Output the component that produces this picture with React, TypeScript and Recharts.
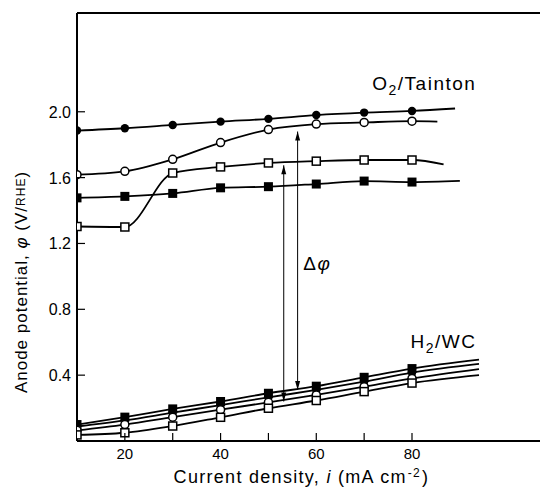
import { LineChart, Line, XAxis, YAxis, ReferenceLine, ReferenceDot } from 'recharts';

const FONT = '"Liberation Sans", Arial, sans-serif';

// current density, mA cm-2 (measured points)
const currents = [10, 20, 30, 40, 50, 60, 70, 80];

// O2 / Tainton cathode side – anode potential, V vs RHE
const o2FilledCircle = [1.886, 1.9, 1.92, 1.94, 1.957, 1.98, 1.995, 2.005];
const o2OpenCircle = [1.618, 1.638, 1.711, 1.813, 1.892, 1.925, 1.935, 1.943];
const o2OpenSquare = [1.303, 1.3, 1.628, 1.665, 1.689, 1.7, 1.707, 1.707];
const o2FilledSquare = [1.477, 1.486, 1.504, 1.538, 1.545, 1.561, 1.579, 1.573];

// H2 / WC
const h2FilledSquare = [0.1, 0.145, 0.195, 0.24, 0.29, 0.333, 0.387, 0.44];
const h2FilledCircle = [0.088, 0.125, 0.172, 0.218, 0.265, 0.31, 0.36, 0.415];
const h2OpenCircle = [0.065, 0.1, 0.145, 0.19, 0.235, 0.28, 0.33, 0.38];
const h2OpenSquare = [0.037, 0.05, 0.091, 0.144, 0.199, 0.246, 0.3, 0.352];

// where each drawn curve runs out past the last point
const tailX = [89, 85.3, 86.6, 90, 94, 94, 94, 94];
const tailY = [2.02, 1.94, 1.68, 1.58, 0.494, 0.468, 0.437, 0.4];

// delta-phi arrows
const deltaX = [53.2, 56.1];
const deltaTop = [1.675, 1.88];
const deltaBottom = [0.24, 0.31];

const xTicks = [20, 30, 40, 50, 60, 70, 80];
const yTicks = [0.4, 0.8, 1.2, 1.6, 2.0];

type Shape = 'fc' | 'oc' | 'fs' | 'os';

const series: { name: string; values: number[]; shape: Shape }[] = [
  { name: 'o2fc', values: o2FilledCircle, shape: 'fc' },
  { name: 'o2oc', values: o2OpenCircle, shape: 'oc' },
  { name: 'o2os', values: o2OpenSquare, shape: 'os' },
  { name: 'o2fs', values: o2FilledSquare, shape: 'fs' },
  { name: 'h2fs', values: h2FilledSquare, shape: 'fs' },
  { name: 'h2fc', values: h2FilledCircle, shape: 'fc' },
  { name: 'h2oc', values: h2OpenCircle, shape: 'oc' },
  { name: 'h2os', values: h2OpenSquare, shape: 'os' },
];

const buildData = (values: number[], i: number) =>
  currents
    .map((x, j) => ({ x, y: values[j], m: true }))
    .concat({ x: tailX[i], y: tailY[i], m: false });

const marker = (shape: Shape) => (props: any) => {
  const { cx, cy, index, payload } = props;
  if (!payload || !payload.m || cx == null || cy == null) return <g key={index} />;
  if (shape === 'fc') return <circle key={index} cx={cx} cy={cy} r={4.2} fill="#000" />;
  if (shape === 'oc')
    return <circle key={index} cx={cx} cy={cy} r={4} fill="#fff" stroke="#000" strokeWidth={1.5} />;
  if (shape === 'fs') return <rect key={index} x={cx - 4.5} y={cy - 4.5} width={9} height={9} fill="#000" />;
  return (
    <rect key={index} x={cx - 4} y={cy - 4} width={8} height={8} fill="#fff" stroke="#000" strokeWidth={1.5} />
  );
};

const arrowHead = (props: any) => {
  const { cx, cy, index } = props;
  if (cx == null || cy == null) return <g key={index} />;
  const d = index === 0 ? 1 : -1; // 0 = top end, tip points up
  return (
    <path
      key={index}
      d={`M${cx},${cy} L${cx - 2.5},${cy + d * 9} L${cx + 2.5},${cy + d * 9} Z`}
      fill="#000"
    />
  );
};

const XTick = (props: any) => {
  const { x, y, payload } = props;
  return (
    <g>
      <line x1={x} y1={y} x2={x} y2={y - 8} stroke="#000" strokeWidth={1.2} />
      {payload.value % 20 === 0 && (
        <text x={x} y={y + 18} textAnchor="middle" fontSize={15} fontFamily={FONT} fill="#000">
          {payload.value}
        </text>
      )}
    </g>
  );
};

const YTick = (props: any) => {
  const { x, y, payload } = props;
  return (
    <g>
      <line x1={x} y1={y} x2={x + 8} y2={y} stroke="#000" strokeWidth={1.2} />
      <text x={x - 6} y={y + 6} textAnchor="end" fontSize={16} fontFamily={FONT} fill="#000">
        {payload.value.toFixed(1)}
      </text>
    </g>
  );
};

const XLabel = (props: any) => {
  const { viewBox } = props;
  const cx = viewBox.x + viewBox.width / 2 - 10;
  return (
    <text x={cx} y={viewBox.y + 42} textAnchor="middle" fontSize={18} letterSpacing={1.3} fontFamily={FONT} fill="#000">
      Current density, <tspan fontStyle="italic">i</tspan> (mA cm
      <tspan dx={1} dy={-6} fontSize={12}>-2</tspan>
      <tspan dx={1} dy={6}>)</tspan>
    </text>
  );
};

const YLabel = (props: any) => {
  const { viewBox } = props;
  const cx = viewBox.x + 13;
  const cy = viewBox.y + viewBox.height / 2 + 55;
  return (
    <text
      x={cx}
      y={cy}
      transform={`rotate(-90, ${cx}, ${cy})`}
      textAnchor="middle"
      dominantBaseline="central"
      fontSize={17}
      letterSpacing={1}
      fontFamily={FONT}
      fill="#000"
    >
      Anode potential, <tspan fontStyle="italic">φ</tspan> (V/<tspan fontSize={12}>RHE</tspan>)
    </text>
  );
};

const textAt = (content: any) => (props: any) =>
  (
    <text x={props.cx} y={props.cy} fontSize={19} letterSpacing={1.5} fontFamily={FONT} fill="#000">
      {content}
    </text>
  );

export default function App() {
  return (
    <LineChart width={540} height={484} margin={{ top: 5, right: 2, left: 0, bottom: 0 }}>
      <XAxis
        dataKey="x"
        type="number"
        domain={[10, 108]}
        ticks={xTicks}
        allowDataOverflow
        tickLine={false}
        tickSize={0}
        tickMargin={0}
        tick={<XTick />}
        axisLine={{ stroke: '#000', strokeWidth: 2 }}
        height={51}
        label={{ content: <XLabel /> }}
      />
      <YAxis
        type="number"
        domain={[0, 2.6]}
        ticks={yTicks}
        allowDataOverflow
        tickLine={false}
        tickSize={0}
        tickMargin={0}
        tick={<YTick />}
        axisLine={{ stroke: '#000', strokeWidth: 2 }}
        width={69}
        label={{ content: <YLabel /> }}
      />
      <ReferenceLine y={2.6} stroke="#000" strokeWidth={2} />
      <ReferenceLine x={108} stroke="#000" strokeWidth={2} />

      {series.map((s, i) => (
        <Line
          key={s.name}
          data={buildData(s.values, i)}
          dataKey="y"
          type="monotone"
          stroke="#000"
          strokeWidth={1.8}
          dot={marker(s.shape)}
          activeDot={false}
          isAnimationActive={false}
        />
      ))}

      {deltaX.map((x, i) => (
        <Line
          key={`delta${i}`}
          data={[
            { x, y: deltaTop[i] },
            { x, y: deltaBottom[i] },
          ]}
          dataKey="y"
          type="linear"
          stroke="#000"
          strokeWidth={1}
          dot={arrowHead}
          activeDot={false}
          isAnimationActive={false}
        />
      ))}

      <ReferenceDot
        x={71.7}
        y={2.13}
        r={0}
        shape={textAt(
          <>
            O<tspan dy={5} fontSize={14}>2</tspan>
            <tspan dy={-5}>/Tainton</tspan>
          </>
        )}
      />
      <ReferenceDot
        x={79.7}
        y={0.565}
        r={0}
        shape={textAt(
          <>
            H<tspan dy={5} fontSize={14}>2</tspan>
            <tspan dy={-5}>/WC</tspan>
          </>
        )}
      />
      <ReferenceDot
        x={57.3}
        y={1.04}
        r={0}
        shape={textAt(
          <>
            Δ<tspan fontStyle="italic">φ</tspan>
          </>
        )}
      />
    </LineChart>
  );
}
